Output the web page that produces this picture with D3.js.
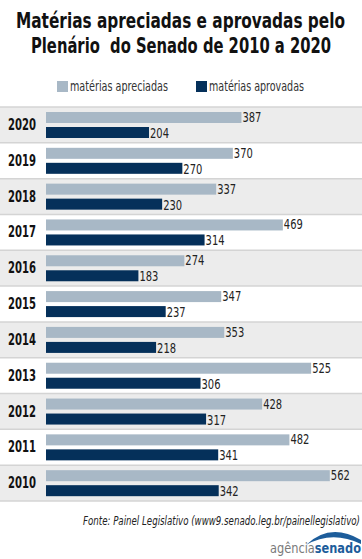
<!DOCTYPE html>
<html>
<head>
<meta charset="utf-8">
<script src="https://cdn.jsdelivr.net/npm/d3@7"></script>
<style>
  body { margin: 0; background: #fff; }
  text { font-family: "DejaVu Sans", sans-serif; font-stretch: condensed; }
</style>
</head>
<body>
<svg id="chart"></svg>
<script>
// dados
var anos = ["2020", "2019", "2018", "2017", "2016", "2015", "2014", "2013", "2012", "2011", "2010"];
var apreciadas = [387, 370, 337, 469, 274, 347, 353, 525, 428, 482, 562];
var aprovadas = [204, 270, 230, 314, 183, 237, 218, 306, 317, 341, 342];
var legenda = ["matérias apreciadas", "matérias aprovadas"];

var width = 362, height = 559;
var corClara = "#a8b8c6", corEscura = "#05305a";

var svg = d3.select("#chart").attr("width", width).attr("height", height);

// titulo
var titulo = [
    { t: "Matérias apreciadas e aprovadas pelo", x: 16, w: 329 },
    { t: "Plenário\u00a0 do Senado de 2010 a 2020", x: 31, w: 300 }
];
svg.selectAll(".titulo")
    .data(titulo)
    .enter().append("text")
    .attr("x", function (d) { return d.x; })
    .attr("y", function (d, i) { return 28 + i * 25; })
    .attr("textLength", function (d) { return d.w; })
    .attr("lengthAdjust", "spacingAndGlyphs")
    .style("font-size", "22px")
    .style("font-weight", "bold")
    .style("fill", "#111")
    .text(function (d) { return d.t; });

// legenda
var leg = svg.selectAll(".leg")
    .data(legenda)
    .enter().append("g")
    .attr("transform", function (d, i) { return "translate(" + (57 + i * 139) + ",81)"; });
leg.append("rect").attr("width", 11).attr("height", 11)
    .style("fill", function (d, i) { return i == 0 ? corClara : corEscura; });
leg.append("text").attr("x", 13).attr("y", 10)
    .attr("textLength", function (d, i) { return i == 0 ? 98 : 95; })
    .attr("lengthAdjust", "spacingAndGlyphs")
    .style("font-size", "13.5px").style("fill", "#333")
    .text(function (d) { return d; });

// escalas
var y = d3.scaleBand().domain(anos).range([107, 501]);
var x = d3.scaleLinear().domain([0, 600]).range([46, 349]);

var linhas = svg.selectAll(".linha")
    .data(anos)
    .enter().append("g")
    .attr("class", "linha")
    .attr("transform", function (d) { return "translate(0," + y(d) + ")"; });

linhas.append("rect")
    .attr("width", width).attr("height", y.bandwidth())
    .style("fill", function (d, i) { return i % 2 == 0 ? "#ececec" : "#fff"; });
linhas.append("line")
    .attr("x1", 0).attr("x2", width).attr("y1", 0).attr("y2", 0)
    .style("stroke", "#d4d4d4").style("stroke-width", 1.5);

linhas.append("text")
    .attr("x", 8).attr("y", 23)
    .attr("textLength", 28)
    .attr("lengthAdjust", "spacingAndGlyphs")
    .style("font-size", "15px").style("font-weight", "bold").style("fill", "#111")
    .text(function (d) { return d; });

linhas.append("rect")
    .attr("x", x(0)).attr("y", 5)
    .attr("width", function (d, i) { return x(apreciadas[i]) - x(0); })
    .attr("height", 11)
    .style("fill", corClara);
linhas.append("rect")
    .attr("x", x(0)).attr("y", 20)
    .attr("width", function (d, i) { return x(aprovadas[i]) - x(0); })
    .attr("height", 11)
    .style("fill", corEscura);

linhas.append("text")
    .attr("x", function (d, i) { return x(apreciadas[i]) + 1; })
    .attr("y", 15)
    .attr("textLength", 19)
    .attr("lengthAdjust", "spacingAndGlyphs")
    .style("font-size", "14px").style("fill", "#222")
    .text(function (d, i) { return apreciadas[i]; });
linhas.append("text")
    .attr("x", function (d, i) { return x(aprovadas[i]) + 1; })
    .attr("y", 31)
    .attr("textLength", 19)
    .attr("lengthAdjust", "spacingAndGlyphs")
    .style("font-size", "14px").style("fill", "#222")
    .text(function (d, i) { return aprovadas[i]; });

svg.append("line")
    .attr("x1", 0).attr("x2", width).attr("y1", 501).attr("y2", 501)
    .style("stroke", "#d4d4d4").style("stroke-width", 1.5);

// fonte
svg.append("text")
    .attr("x", 83).attr("y", 525)
    .attr("textLength", 277)
    .attr("lengthAdjust", "spacingAndGlyphs")
    .style("font-size", "12.5px").style("font-style", "italic").style("fill", "#222")
    .text("Fonte: Painel Legislativo (www9.senado.leg.br/painellegislativo)");

// logo
svg.append("path")
    .attr("d", "M306,545 Q330,522 361,540 L361,544 Q332,530 306,545 Z")
    .style("fill", "#1d5d9b");
var logo = svg.append("text")
    .attr("x", 270).attr("y", 553)
    .attr("textLength", 91)
    .attr("lengthAdjust", "spacingAndGlyphs")
    .style("font-size", "14px");
logo.append("tspan").style("fill", "#7a7a7a").text("agência");
logo.append("tspan").style("fill", "#1d5d9b").style("font-weight", "bold").text("senado");
</script>
</body>
</html>
